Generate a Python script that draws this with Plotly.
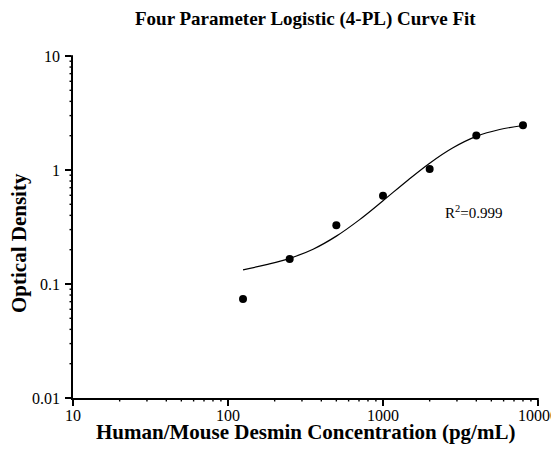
import math
import plotly.graph_objects as go

# Measured standards
conc = [125, 250, 500, 1000, 2000, 4000, 8000]
od = [0.074, 0.166, 0.327, 0.595, 1.02, 2.01, 2.47]

# Fitted 4-PL curve
curve_x = [125, 177, 250, 354, 500, 707, 1000, 1414, 2000, 2828, 4000, 5657, 8000]
curve_y = [0.133, 0.148, 0.168, 0.202, 0.263, 0.367, 0.537, 0.794, 1.148, 1.567, 1.972, 2.265, 2.455]

x_ticks = [10, 100, 1000, 10000]
x_ticktext = ["10", "100", "1000", "10000"]
y_ticks = [0.01, 0.1, 1, 10]
y_ticktext = ["0.01", "0.1", "1", "10"]

title_text = "Four Parameter Logistic (4-PL) Curve Fit"
x_title = "Human/Mouse Desmin Concentration (pg/mL)"
y_title = "Optical Density"
r2_text = "R<sup>2</sup>=0.999"

FONT = "Liberation Serif, Times New Roman, serif"

# page has an 8px body margin; compensate so the plot lands where the reference's does
OFF = 8
PAGE_W, PAGE_H = 559, 458
W, H = PAGE_W - OFF, PAGE_H - OFF
PX_L, PX_R, PX_T, PX_B = 73, 538, 56, 398  # plot area in page pixels
L, R, T, B = PX_L - OFF, PAGE_W - PX_R, PX_T - OFF, PAGE_H - PX_B
plot_w = PX_R - PX_L
plot_h = PX_B - PX_T

XR, YR = [1, 4], [-2, 1]
MAJOR_LEN, MINOR_LEN = 6.5, 3.5


def px_x(p):
    return (p - PX_L) / plot_w


def px_y(p):
    return (PX_B - p) / plot_h


def minor_vals(major):
    out = []
    for m in major[:-1]:
        out += [m * k for k in range(2, 10)]
    return out


def frac(v, rng):
    return (math.log10(v) - rng[0]) / (rng[1] - rng[0])


fig = go.Figure()
fig.add_trace(go.Scatter(
    x=curve_x, y=curve_y, mode="lines",
    line=dict(color="black", width=1.2, shape="spline", smoothing=1.0),
    hoverinfo="skip", showlegend=False,
))
fig.add_trace(go.Scatter(
    x=conc, y=od, mode="markers",
    marker=dict(color="black", size=8),
    showlegend=False,
))

fig.update_layout(
    xaxis=dict(type="log", range=XR, tickmode="array", tickvals=x_ticks,
               showticklabels=False,
               showgrid=False, zeroline=False, showline=True, linecolor="black", linewidth=1.6,
               ticks="outside", ticklen=MAJOR_LEN, tickwidth=1.6, tickcolor="black",
               automargin=False),
    yaxis=dict(type="log", range=YR, tickmode="array", tickvals=y_ticks,
               showticklabels=False,
               showgrid=False, zeroline=False, showline=True, linecolor="black", linewidth=1.6,
               ticks="outside", ticklen=MAJOR_LEN, tickwidth=1.6, tickcolor="black",
               automargin=False),
)

# tick marks drawn as line shapes at the axis tick values
for v in x_ticks:
    f = frac(v, XR)
    fig.add_shape(type="line", xref="paper", yref="paper", x0=f, x1=f,
                  y0=0, y1=-MAJOR_LEN / plot_h, line=dict(width=1.6, color="black"))
for v in minor_vals(x_ticks):
    f = frac(v, XR)
    fig.add_shape(type="line", xref="paper", yref="paper", x0=f, x1=f,
                  y0=0, y1=-MINOR_LEN / plot_h, line=dict(width=1.4, color="black"))
for v in y_ticks:
    f = frac(v, YR)
    fig.add_shape(type="line", xref="paper", yref="paper", y0=f, y1=f,
                  x0=0, x1=-MAJOR_LEN / plot_w, line=dict(width=1.6, color="black"))
for v in minor_vals(y_ticks):
    f = frac(v, YR)
    fig.add_shape(type="line", xref="paper", yref="paper", y0=f, y1=f,
                  x0=0, x1=-MINOR_LEN / plot_w, line=dict(width=1.4, color="black"))

# tick labels placed at the tick values
for v, t in zip(x_ticks, x_ticktext):
    fig.add_annotation(text=t, xref="paper", yref="paper", x=frac(v, XR), y=px_y(415),
                       xanchor="center", yanchor="middle", showarrow=False,
                       font=dict(family=FONT, size=16, color="black"))
for v, t in zip(y_ticks, y_ticktext):
    fig.add_annotation(text=t, xref="paper", yref="paper", x=px_x(62), y=frac(v, YR),
                       xanchor="right", yanchor="middle", showarrow=False,
                       font=dict(family=FONT, size=16, color="black"))

fig.add_annotation(text=f"<b>{title_text}</b>", xref="paper", yref="paper",
                   x=0.5, y=px_y(18.5), xanchor="center", yanchor="middle",
                   showarrow=False, font=dict(family=FONT, size=19, color="black"))
fig.add_annotation(text=f"<b>{x_title}</b>", xref="paper", yref="paper",
                   x=0.5, y=px_y(432), xanchor="center", yanchor="middle",
                   showarrow=False, font=dict(family=FONT, size=21, color="black"))
fig.add_annotation(text=f"<b>{y_title}</b>", xref="paper", yref="paper",
                   x=px_x(19), y=px_y(243), xanchor="center", yanchor="middle",
                   textangle=-90, showarrow=False, font=dict(family=FONT, size=21, color="black"))
fig.add_annotation(text=r2_text, xref="paper", yref="paper",
                   x=px_x(443), y=px_y(212), xanchor="left", yanchor="middle",
                   showarrow=False, font=dict(family=FONT, size=15, color="black"))

fig.update_layout(
    width=W, height=H,
    margin=dict(l=L, r=R, t=T, b=B, autoexpand=False),
    paper_bgcolor="white", plot_bgcolor="white",
    showlegend=False,
)

fig.write_html("out.html")
